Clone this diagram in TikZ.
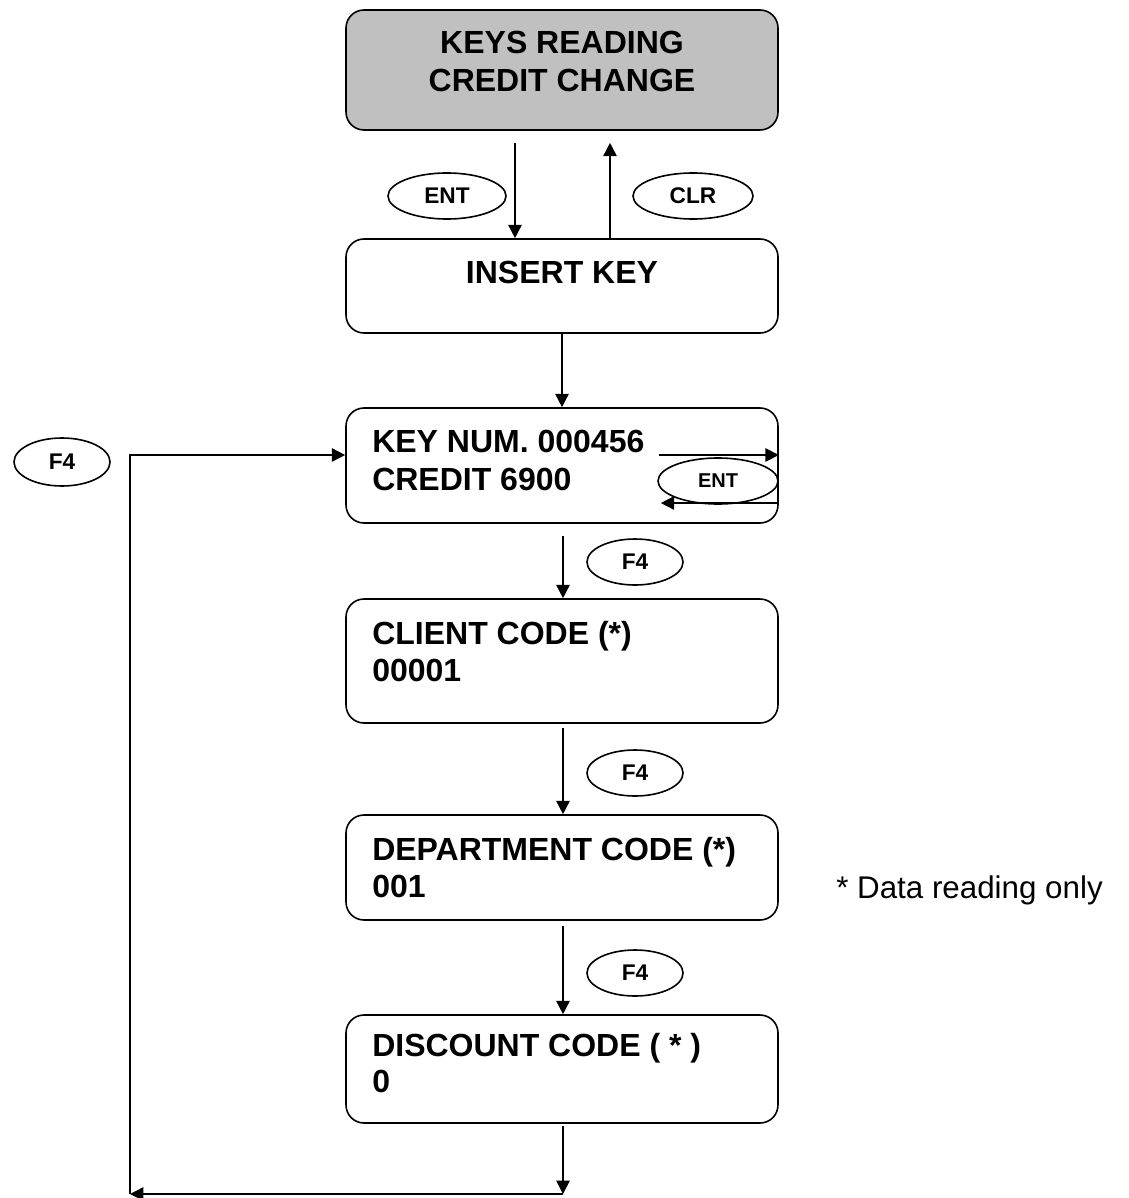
\documentclass[tikz,border=0pt]{standalone}
\usepackage{fontspec}
\setmainfont{Liberation Sans}
\usetikzlibrary{arrows.meta,shapes.geometric,calc}
\definecolor{boxgray}{HTML}{C0C0C0}
\tikzset{
  scr/.style={draw, line width=1.2pt, rounded corners=13.5pt, minimum width=324pt, inner sep=0pt},
  key/.style={draw, ellipse, line width=1.2pt, minimum width=72pt, minimum height=34.5pt, inner sep=0pt, font=\bfseries\fontsize{17}{19}\selectfont},
  txt/.style={inner sep=0pt, font=\bfseries\fontsize{24}{28}\selectfont},
  arr/.style={line width=1.2pt, -{Triangle[length=10pt,width=10pt]}},
  ln/.style={line width=1.2pt}
}
\begin{document}
\begin{tikzpicture}[x=0.75pt,y=-0.75pt]
\useasboundingbox (0,0) rectangle (1128,1198);
% screens
\node[scr, fill=boxgray, minimum height=90pt] (top) at (562,70) {};
\node[scr, minimum height=70.5pt] (ins) at (562,286) {};
\node[scr, minimum height=86.25pt] (kn) at (562,465.5) {};
\node[scr, minimum height=93pt] (cli) at (562,661) {};
\node[scr, minimum height=78.75pt] (dep) at (562,867.5) {};
\node[scr, minimum height=81pt] (dis) at (562,1069) {};
% texts
\node[txt, anchor=base] (t1) at (562,54) {KEYS READING};
\node[txt, anchor=base] (t2) at (562,92) {CREDIT CHANGE};
\node[txt, anchor=base] (t3) at (562,283) {INSERT KEY};
\node[txt, anchor=base west] (t4) at (372,452) {KEY NUM. 000456};
\node[txt, anchor=base west] (t5) at (372,490) {CREDIT 6900};
\node[txt, anchor=base west] (t6) at (372,644) {CLIENT CODE (*)};
\node[txt, anchor=base west] (t7) at (372,681) {00001};
\node[txt, anchor=base west] (t8) at (372,860) {DEPARTMENT CODE (*)};
\node[txt, anchor=base west] (t9) at (372,897) {001};
\node[txt, anchor=base west] (t10) at (372,1056) {DISCOUNT CODE ( * )};
\node[txt, anchor=base west] (t11) at (372,1092) {0};
\node[inner sep=0pt, anchor=base west, font=\fontsize{23.5}{28}\selectfont] (note) at (836,898) {* Data reading only};
% key ellipses
\node[key, minimum width=88.5pt] (ent1) at (447,196) {ENT};
\node[key, minimum width=90pt] (clr) at (693,196) {CLR};
\node[key, minimum width=90pt, font=\bfseries\fontsize{15}{17}\selectfont] (ent2) at (718,481) {ENT};
\node[key] (f4a) at (635,562) {F4};
\node[key] (f4b) at (635,773) {F4};
\node[key] (f4c) at (635,973) {F4};
\node[key, minimum height=36pt] (f4l) at (62,462) {F4};
% connectors
\draw[arr] ($(top.south)+(-47,12)$) -- ($(ins.north)+(-47,0)$);
\draw[arr] ($(ins.north)+(48,0)$) -- ($(top.south)+(48,12)$);
\draw[arr] (ins.south) -- (kn.north);
\draw[arr] ($(kn.east)+(-120,-10.5)$) -- ($(kn.east)+(0,-10.5)$);
\draw[arr] ($(kn.east)+(0,37.5)$) -- ($(kn.east)+(-118,37.5)$);
\draw[arr] ($(kn.south)+(1,12)$) -- ($(cli.north)+(1,0)$);
\draw[arr] ($(cli.south)+(1,4)$) -- ($(dep.north)+(1,0)$);
\draw[arr] ($(dep.south)+(1,5)$) -- ($(dis.north)+(1,0)$);
\coordinate (b1) at (563,1194);
\coordinate (b2) at (130,1194);
\coordinate (b3) at (130,455);
\draw[arr] ($(dis.south)+(1,2)$) -- (b1);
\draw[arr] (b1) -- (b2);
\draw[arr] (b2) -- (b3) -- (b3 -| kn.west);
\end{tikzpicture}
\end{document}
